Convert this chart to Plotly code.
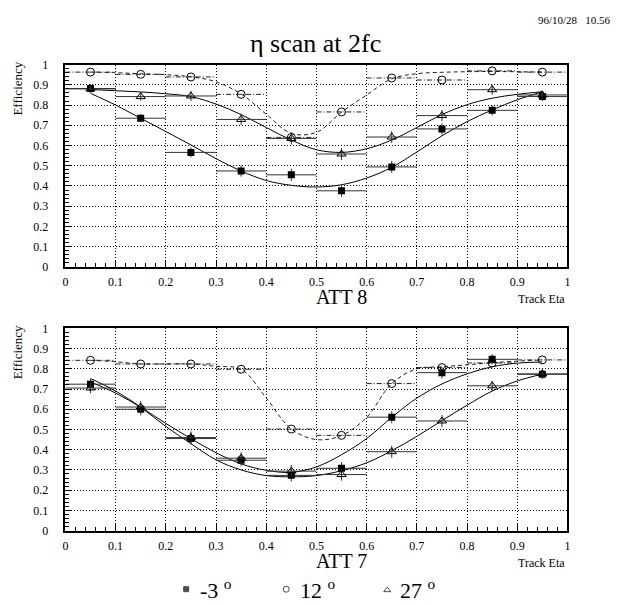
import plotly.graph_objects as go

W, H = 618, 604
FONT = "Liberation Serif, Times New Roman, serif"

# ---------------- data ----------------
eta = [0.05, 0.15, 0.25, 0.35, 0.45, 0.55, 0.65, 0.75, 0.85, 0.95]
bin_half = [0.05] * 10

# ATT 8 (top)
att8_m3 = [0.882, 0.735, 0.566, 0.474, 0.455, 0.376, 0.494, 0.682, 0.774, 0.842]
att8_12 = [0.963, 0.952, 0.939, 0.853, 0.640, 0.766, 0.934, 0.924, 0.969, 0.963]
att8_27 = [0.880, 0.842, 0.845, 0.729, 0.635, 0.558, 0.642, 0.748, 0.876, 0.850]
att8_err = [0.02, 0.02, 0.025, 0.028, 0.03, 0.03, 0.03, 0.028, 0.025, 0.022]

# ATT 7 (bottom)
att7_m3 = [0.724, 0.600, 0.455, 0.348, 0.273, 0.308, 0.561, 0.781, 0.847, 0.773]
att7_12 = [0.842, 0.824, 0.824, 0.798, 0.502, 0.471, 0.727, 0.806, 0.829, 0.844]
att7_27 = [0.705, 0.611, 0.460, 0.358, 0.294, 0.277, 0.390, 0.542, 0.716, 0.775]
att7_err = [0.025, 0.03, 0.03, 0.03, 0.03, 0.03, 0.03, 0.03, 0.025, 0.022]

# fitted curves
fit_x = [0.05, 0.10, 0.15, 0.20, 0.25, 0.30, 0.35, 0.40, 0.45, 0.50,
         0.55, 0.60, 0.65, 0.70, 0.75, 0.80, 0.85, 0.90, 0.95]
fit8_m3 = [0.858, 0.800, 0.735, 0.669, 0.603, 0.535, 0.474, 0.427, 0.403, 0.395,
           0.406, 0.439, 0.492, 0.568, 0.648, 0.718, 0.776, 0.826, 0.866]
fit8_27 = [0.877, 0.871, 0.865, 0.856, 0.842, 0.805, 0.753, 0.689, 0.627, 0.579,
           0.566, 0.584, 0.627, 0.689, 0.753, 0.802, 0.834, 0.853, 0.866]
fit8_12 = [0.963, 0.960, 0.955, 0.950, 0.940, 0.915, 0.855, 0.755, 0.660, 0.665,
           0.765, 0.850, 0.930, 0.955, 0.962, 0.965, 0.966, 0.965, 0.963]
fit7_m3 = [0.735, 0.680, 0.610, 0.530, 0.455, 0.385, 0.330, 0.298, 0.288, 0.315,
           0.375, 0.455, 0.560, 0.655, 0.725, 0.775, 0.810, 0.828, 0.834]
fit7_27 = [0.752, 0.690, 0.610, 0.515, 0.430, 0.350, 0.300, 0.272, 0.266, 0.272,
           0.296, 0.335, 0.395, 0.466, 0.544, 0.620, 0.690, 0.740, 0.774]
fit7_12 = [0.842, 0.835, 0.824, 0.824, 0.824, 0.812, 0.798, 0.656, 0.502, 0.450,
           0.470, 0.560, 0.727, 0.800, 0.810, 0.820, 0.830, 0.838, 0.844]

legend_labels = ["-3 <sup>o</sup>", "12 <sup>o</sup>", "27 <sup>o</sup>"]

# ---------------- layout geometry (pixels) ----------------
X0, X1 = 63, 570
TOP = (59, 266)
BOT = (329, 536)


def px(x):
    return x / W


def py(y):
    return 1 - y / H


fig = go.Figure()


def add_panel(xa, ya, sq, ci, tr, err, f_sq, f_tr, f_ci):
    # fits
    fig.add_trace(go.Scatter(x=fit_x, y=f_sq, mode="lines", line=dict(color="black", width=1, shape="spline"),
                             xaxis=xa, yaxis=ya, showlegend=False, hoverinfo="skip"))
    fig.add_trace(go.Scatter(x=fit_x, y=f_tr, mode="lines", line=dict(color="black", width=1, shape="spline"),
                             xaxis=xa, yaxis=ya, showlegend=False, hoverinfo="skip"))
    fig.add_trace(go.Scatter(x=fit_x, y=f_ci, mode="lines",
                             line=dict(color="#222", width=1, shape="spline", dash="4px,3px"),
                             xaxis=xa, yaxis=ya, showlegend=False, hoverinfo="skip"))
    # circle horizontal bars (dash-dot)
    hx, hy = [], []
    for x, y, h in zip(eta, ci, bin_half):
        hx += [x - h, x + h, None]
        hy += [y, y, None]
    fig.add_trace(go.Scatter(x=hx, y=hy, mode="lines", line=dict(color="#222", width=1, dash="5px,2px,1px,2px"),
                             xaxis=xa, yaxis=ya, showlegend=False, hoverinfo="skip"))
    # squares
    fig.add_trace(go.Scatter(x=eta, y=sq, mode="markers",
                             marker=dict(symbol="square", size=7, color="black"),
                             error_x=dict(type="data", array=bin_half, width=0, thickness=1, color="#333"),
                             error_y=dict(type="data", array=err, width=0, thickness=1, color="#333"),
                             xaxis=xa, yaxis=ya, showlegend=False))
    # triangles
    fig.add_trace(go.Scatter(x=eta, y=tr, mode="markers",
                             marker=dict(symbol="triangle-up-open", size=8, color="black", line=dict(width=1)),
                             error_x=dict(type="data", array=bin_half, width=0, thickness=1, color="#333"),
                             error_y=dict(type="data", array=err, width=0, thickness=1, color="#333"),
                             xaxis=xa, yaxis=ya, showlegend=False))
    # circles
    fig.add_trace(go.Scatter(x=eta, y=ci, mode="markers",
                             marker=dict(symbol="circle-open", size=8, color="black", line=dict(width=1)),
                             xaxis=xa, yaxis=ya, showlegend=False))


add_panel("x", "y", att8_m3, att8_12, att8_27, att8_err, fit8_m3, fit8_27, fit8_12)
add_panel("x2", "y2", att7_m3, att7_12, att7_27, att7_err, fit7_m3, fit7_27, fit7_12)

# legend markers on an overlay pixel axis
fig.add_trace(go.Scatter(x=[185, 286, 388], y=[596, 596, 597], mode="markers",
                         marker=dict(symbol=["square", "circle-open", "triangle-up-open"],
                                     size=[5, 6, 6], color="black", line=dict(width=1, color="black")),
                         xaxis="x3", yaxis="y3", showlegend=False, hoverinfo="skip"))

axis_common = dict(
    range=[0, 1], tickmode="linear", tick0=0, dtick=0.1,
    ticks="inside", ticklen=7, tickwidth=1, tickcolor="black",
    minor=dict(dtick=0.02, ticks="inside", ticklen=4, tickwidth=1, tickcolor="black", showgrid=False),
    showgrid=True, griddash="1px,2px", gridcolor="black", gridwidth=1,
    zeroline=False, showline=True, mirror=True, linecolor="black", linewidth=1.5,
    tickfont=dict(family=FONT, size=12, color="black"),
)

fig.update_layout(
    width=W, height=H, margin=dict(l=0, r=0, t=0, b=0),
    paper_bgcolor="white", plot_bgcolor="rgba(0,0,0,0)",
    showlegend=False,
    xaxis=dict(domain=[px(X0), px(X1)], anchor="y", ticklabelstandoff=3, **axis_common),
    yaxis=dict(domain=[py(TOP[1]), py(TOP[0])], anchor="x", ticklabelstandoff=13, **axis_common),
    xaxis2=dict(domain=[px(X0), px(X1)], anchor="y2", ticklabelstandoff=3, **axis_common),
    yaxis2=dict(domain=[py(BOT[1]), py(BOT[0])], anchor="x2", ticklabelstandoff=13, **axis_common),
    xaxis3=dict(domain=[0, 1], range=[0, W], visible=False, anchor="y3"),
    yaxis3=dict(domain=[0, 1], range=[H, 0], visible=False, anchor="x3"),
)

ann = []
ann.append(dict(text="96/10/28   10.56", x=px(616), y=py(13), xanchor="right", yanchor="middle",
                font=dict(family=FONT, size=11)))
ann.append(dict(text="η scan at 2fc", x=px(316), y=py(37), xanchor="center", yanchor="middle",
                font=dict(family=FONT, size=26)))
for top, bottom, lab in [(TOP[0], TOP[1], "ATT 8"), (BOT[0], BOT[1], "ATT 7")]:
    ann.append(dict(text="Efficiency", x=px(15), y=py(top - 5), xanchor="center", yanchor="top", textangle=-90,
                    font=dict(family=FONT, size=13)))
    ann.append(dict(text=lab, x=px(342), y=py(bottom + 31), xanchor="center", yanchor="middle",
                    font=dict(family=FONT, size=20)))
    ann.append(dict(text="Track Eta", x=px(X1), y=py(bottom + 33), xanchor="right", yanchor="middle",
                    font=dict(family=FONT, size=12)))
for xpos, lab in zip([197, 298, 399], legend_labels):
    ann.append(dict(text=lab, x=px(xpos), y=py(596), xanchor="left", yanchor="middle",
                    font=dict(family=FONT, size=22)))
for a in ann:
    a.update(xref="paper", yref="paper", showarrow=False)
    a["font"]["color"] = "black"
fig.update_layout(annotations=ann)

fig.write_html("out.html")
